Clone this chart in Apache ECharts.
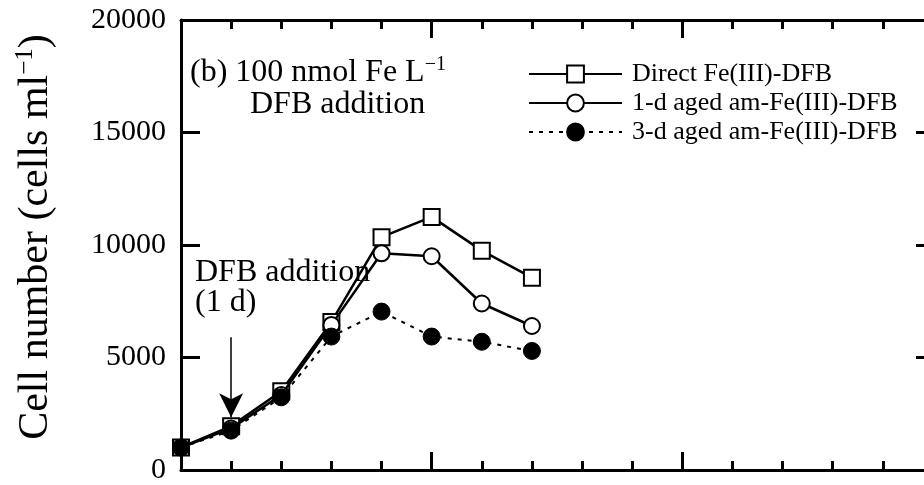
<!DOCTYPE html>
<html>
<head>
<meta charset="utf-8">
<script src="https://cdn.jsdelivr.net/npm/echarts@6/dist/echarts.min.js"></script>
<style>
html,body{margin:0;padding:0;background:#fff;}
#chart{width:924px;height:485px;}
</style>
</head>
<body>
<div id="chart"></div>
<script>
const days = [0, 1, 2, 3, 4, 5, 6, 7];
const directFe = [1000, 1950, 3500, 6580, 10350, 11250, 9750, 8550];
const aged1d = [1000, 1850, 3330, 6450, 9630, 9500, 7400, 6400];
const aged3d = [1000, 1750, 3230, 5930, 7040, 5930, 5700, 5290];
const seriesNames = ['Direct Fe(III)-DFB', '1-d aged am-Fe(III)-DFB', '3-d aged am-Fe(III)-DFB'];
const yTicks = [0, 5000, 10000, 15000, 20000];
const arrowStart = [1, 5900];
const arrowEnd = [1, 2350];

const FONT = '"Liberation Serif", "Times New Roman", serif';
const chart = echarts.init(document.getElementById('chart'), null, {renderer: 'canvas'});

function pairs(vals) { return days.map((d, i) => [d, vals[i]]); }

const axisLine = {show: true, onZero: false, lineStyle: {color: '#000', width: 3}};
const tick = (len) => ({show: true, inside: true, length: len, lineStyle: {color: '#000', width: 3}});

const option = {
  backgroundColor: '#fff',
  animation: false,
  textStyle: {fontFamily: FONT},
  grid: {left: 181, top: 20, right: -9, bottom: 15, outerBoundsMode: 'none', containLabel: false},
  legend: {
    orient: 'vertical',
    left: 523,
    top: 56,
    itemWidth: 93,
    itemHeight: 21,
    itemGap: 3,
    data: seriesNames,
    textStyle: {fontFamily: FONT, fontSize: 26, color: '#000', lineHeight: 26, padding: [0, 0, 0, 5]},
    selectedMode: false
  },
  xAxis: [
    {
      type: 'value', position: 'bottom', min: 0, max: 15, interval: 5,
      axisLine: axisLine,
      axisTick: tick(18),
      minorTick: {show: true, splitNumber: 5, length: 9, lineStyle: {color: '#000', width: 3}},
      axisLabel: {show: false},
      splitLine: {show: false}
    },
    {
      type: 'value', position: 'top', min: 0, max: 15, interval: 5,
      axisLine: axisLine,
      axisTick: tick(18),
      minorTick: {show: true, splitNumber: 5, length: 9, lineStyle: {color: '#000', width: 3}},
      axisLabel: {show: false},
      splitLine: {show: false}
    }
  ],
  yAxis: [
    {
      type: 'value', position: 'left', min: yTicks[0], max: yTicks[yTicks.length - 1], interval: 5000,
      axisLine: axisLine,
      axisTick: tick(19),
      axisLabel: {show: true, fontFamily: FONT, fontSize: 30, color: '#000', margin: 15, formatter: (v) => String(v)},
      splitLine: {show: false},
      name: '{a|Cell number (cells ml}{s|−1}{a|)}',
      nameLocation: 'middle',
      nameGap: 122,
      nameTextStyle: {
        fontFamily: FONT, color: '#000',
        rich: {
          a: {fontFamily: FONT, fontSize: 42, color: '#000', lineHeight: 46},
          s: {fontFamily: FONT, fontSize: 25, color: '#000', verticalAlign: 'top', lineHeight: 46}
        },
        padding: [0, 0, 0, 16]
      }
    },
    {
      type: 'value', position: 'right', min: yTicks[0], max: yTicks[yTicks.length - 1], interval: 5000,
      axisLine: axisLine,
      axisTick: tick(17),
      axisLabel: {show: false},
      splitLine: {show: false}
    }
  ],
  series: [
    {
      name: seriesNames[0], type: 'line', data: pairs(directFe),
      symbol: 'rect', symbolSize: 16,
      lineStyle: {color: '#000', width: 2.5},
      itemStyle: {color: '#fff', borderColor: '#000', borderWidth: 2},
      z: 2,
      markLine: {
        silent: true,
        symbol: ['none', 'arrow'],
        symbolSize: [18, 24],
        label: {show: false},
        lineStyle: {color: '#000', width: 1.5, type: 'solid'},
        data: [[{coord: arrowStart}, {coord: arrowEnd}]]
      }
    },
    {
      name: seriesNames[1], type: 'line', data: pairs(aged1d),
      symbol: 'circle', symbolSize: 16,
      lineStyle: {color: '#000', width: 2.5},
      itemStyle: {color: '#fff', borderColor: '#000', borderWidth: 2},
      z: 3
    },
    {
      name: seriesNames[2], type: 'line', data: pairs(aged3d),
      symbol: 'circle', symbolSize: 17,
      lineStyle: {color: '#000', width: 2, type: [4, 6]},
      itemStyle: {color: '#000', borderColor: '#000', borderWidth: 1},
      z: 4
    }
  ],
  graphic: [
    {
      type: 'text', left: 190, top: 55, z: 10,
      style: {
        text: '{a|(b) 100 nmol Fe L}{s|−1}',
        rich: {
          a: {fontFamily: FONT, fontSize: 32, fill: '#000', lineHeight: 36},
          s: {fontFamily: FONT, fontSize: 20, fill: '#000', verticalAlign: 'top', lineHeight: 36}
        }
      }
    },
    {
      type: 'text', left: 250, top: 89, z: 10,
      style: {text: 'DFB addition', fontFamily: FONT, fontSize: 32, fill: '#000'}
    },
    {
      type: 'text', left: 195, top: 257, z: 10,
      style: {text: 'DFB addition', fontFamily: FONT, fontSize: 32, fill: '#000'}
    },
    {
      type: 'text', left: 195, top: 287, z: 10,
      style: {text: '(1 d)', fontFamily: FONT, fontSize: 32, fill: '#000'}
    }
  ]
};
chart.setOption(option);
</script>
</body>
</html>
